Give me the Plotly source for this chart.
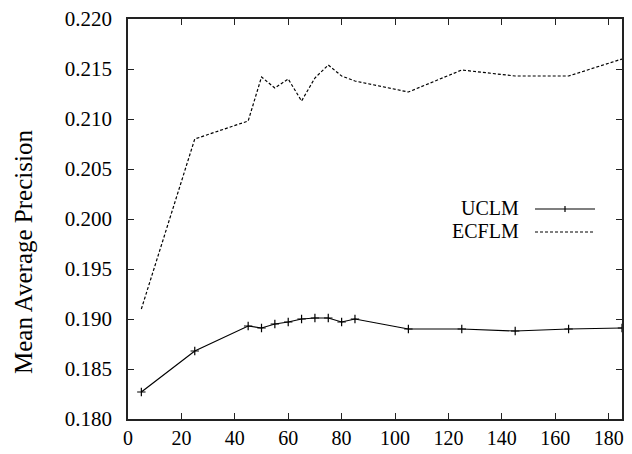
import plotly.graph_objects as go

x_uclm = [5, 25, 45, 50, 55, 60, 65, 70, 75, 80, 85, 105, 125, 145, 165, 185]
y_uclm = [0.1827, 0.1868, 0.1893, 0.1891, 0.1895, 0.1897, 0.1900, 0.1901, 0.1901, 0.1897,
          0.1900, 0.1890, 0.1890, 0.1888, 0.1890, 0.1891]
x_ecflm = [5, 25, 45, 50, 55, 60, 65, 70, 75, 80, 85, 105, 125, 145, 165, 185]
y_ecflm = [0.1910, 0.2080, 0.2098, 0.2142, 0.2131, 0.2140, 0.2118, 0.2141, 0.2154, 0.2143,
           0.2138, 0.2127, 0.2149, 0.2143, 0.2143, 0.2160]
x_ticks = [0, 20, 40, 60, 80, 100, 120, 140, 160, 180]
y_ticks = [0.180, 0.185, 0.190, 0.195, 0.200, 0.205, 0.210, 0.215, 0.220]
names = ["UCLM", "ECFLM"]
y_title = "Mean Average Precision"

FONT = "Liberation Serif, Times New Roman, serif"
FS = 21
fig = go.Figure()
fig.add_trace(go.Scatter(x=x_uclm, y=y_uclm, mode="lines+markers", name=names[0],
                         line=dict(color="black", width=1.2),
                         marker=dict(symbol="cross-thin", size=6, line=dict(color="black", width=1.2)),
                         showlegend=False))
fig.add_trace(go.Scatter(x=x_ecflm, y=y_ecflm, mode="lines", name=names[1],
                         line=dict(color="black", width=1.2, dash="3px,2px"),
                         showlegend=False))

L = dict(l=128, r=10, t=19, b=35)
W, H = 632, 454
pw, ph = W - L["l"] - L["r"], H - L["t"] - L["b"]
def px(xp): return (xp - L["l"]) / pw
def py(yp): return (H - L["b"] - yp) / ph

for i, (nm, yy) in enumerate(zip(names, [208, 231])):
    fig.add_annotation(x=px(521), y=py(yy), xref="paper", yref="paper", text=nm,
                       showarrow=False, xanchor="right", yanchor="middle",
                       font=dict(family=FONT, size=20, color="black"))
    fig.add_shape(type="line", xref="paper", yref="paper", x0=px(535), x1=px(595),
                  y0=py(yy + 1), y1=py(yy + 1),
                  line=dict(color="black", width=1.2, dash=None if i == 0 else "3px,2px"))
fig.add_shape(type="line", xref="paper", yref="paper", x0=px(565), x1=px(565),
              y0=py(206), y1=py(212), line=dict(color="black", width=1.2))

fig.add_annotation(x=px(23), y=py(252), xref="paper", yref="paper", text=y_title,
                   textangle=-90, showarrow=False, xanchor="center", yanchor="middle",
                   font=dict(family=FONT, size=25, color="black"))

axis_common = dict(showgrid=False, zeroline=False, showline=True, linecolor="#222",
                   linewidth=1.6, mirror="ticks", ticks="inside", ticklen=6,
                   tickcolor="#222", tickwidth=1, automargin=False)
fig.update_xaxes(range=[0, 185], tickvals=x_ticks, ticktext=[str(v) for v in x_ticks],
                 ticklabelstandoff=0, tickfont=dict(family=FONT, size=20, color="black"),
                 **axis_common)
fig.update_yaxes(range=[0.180, 0.220], tickvals=y_ticks,
                 ticktext=["%.3f" % v for v in y_ticks], ticklabelstandoff=10,
                 tickfont=dict(family=FONT, size=FS, color="black"),
                 **axis_common)
fig.update_layout(width=W, height=H, margin=L, plot_bgcolor="white", paper_bgcolor="white",
                  font=dict(family=FONT, size=FS, color="black"))
fig.write_html("out.html")
